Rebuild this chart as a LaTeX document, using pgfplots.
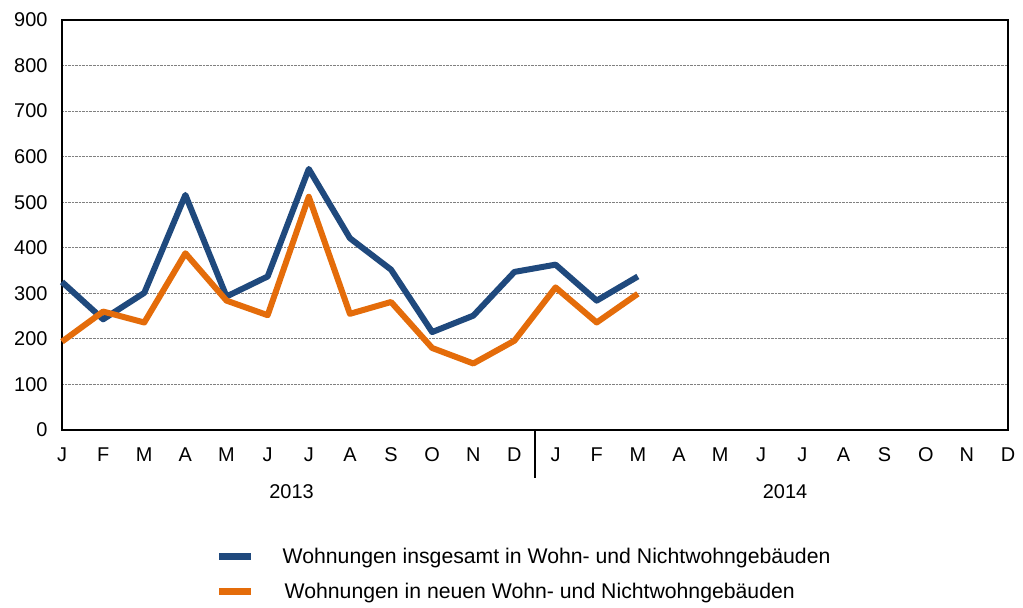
\documentclass[border=0pt]{standalone}
\usepackage{fontspec}
\setmainfont{Liberation Sans}
\usepackage{pgfplots}
\pgfplotsset{compat=1.18}
\definecolor{cblue}{RGB}{31,73,125}
\definecolor{corange}{RGB}{228,108,10}
\begin{document}
\begin{tikzpicture}
\useasboundingbox (-62bp,-178bp) rectangle (961bp,430bp);
\begin{axis}[
  scale only axis,
  width=946bp, height=410bp,
  xmin=0, xmax=23, ymin=0, ymax=900,
  xtick={0,...,23},
  xticklabels={J,F,M,A,M,J,J,A,S,O,N,D,J,F,M,A,M,J,J,A,S,O,N,D},
  ytick={0,100,...,900},
  major tick length=0pt,
  axis line style={line width=2.5bp},
  ymajorgrids,
  grid style={densely dotted, gray, line width=0.8bp},
  /pgf/number format/assume math mode=true,
  tick label style={font=\fontsize{20}{24}\selectfont},
  yticklabel style={xshift=-11bp},
  xticklabel style={yshift=-14bp},
  clip=false,
  legend cell align=left,
  legend style={at={(0.1628,-0.283)}, anchor=north west, draw=none, fill=none,
    font=\fontsize{21.3}{25}\selectfont, inner sep=0pt, row sep=14bp},
  legend image code/.code={\draw[#1,line width=6.5bp] (0bp,0bp) -- (32bp,0bp);},
]
\addplot[cblue, line width=6bp, line join=round] coordinates {
(0,325) (1,243) (2,301) (3,516) (4,293) (5,337) (6,573) (7,421) (8,352) (9,215) (10,251) (11,347) (12,363) (13,284) (14,337)};
\addlegendentry{\hspace*{26bp}Wohnungen insgesamt in Wohn- und Nichtwohngebäuden}
\addplot[corange, line width=6bp, line join=round] coordinates {
(0,194) (1,260) (2,236) (3,388) (4,284) (5,252) (6,512) (7,255) (8,281) (9,180) (10,146) (11,196) (12,313) (13,236) (14,299)};
\addlegendentry{\hspace*{28bp}Wohnungen in neuen Wohn- und Nichtwohngebäuden}
\draw[line width=2bp] (axis cs:11.5,0) -- ++(0,-48bp);
\node[font=\fontsize{20}{24}\selectfont] at ([yshift=-62bp]axis cs:5.58,0) {2013};
\node[font=\fontsize{20}{24}\selectfont] at ([yshift=-62bp]axis cs:17.58,0) {2014};
\end{axis}
\end{tikzpicture}
\end{document}
